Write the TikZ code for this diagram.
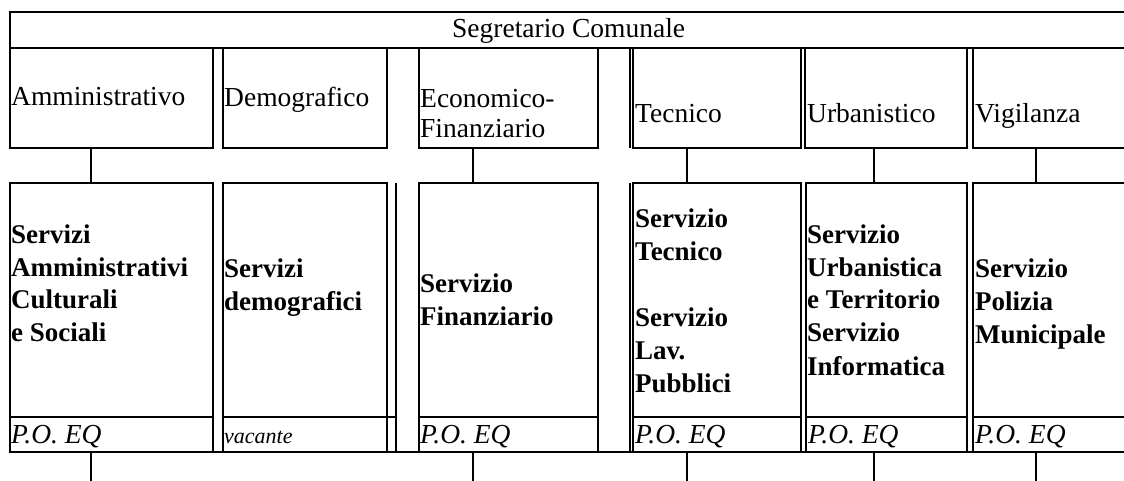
\documentclass[tikz,border=0pt]{standalone}
\usepackage{fontspec}
\setmainfont{Liberation Serif}
\newcommand\stk[1]{\vtop{\halign{##\hfil\cr#1\crcr}}}
\begin{document}
\begin{tikzpicture}[x=1pt,y=-1pt,
  box/.style={draw, line width=1.3pt, rectangle, inner sep=0pt, outer sep=0pt, anchor=north west},
  rule/.style={line width=1.3pt},
  reg/.style={anchor=base west, inner sep=0pt, font=\fontsize{27.5}{30}\selectfont},
  bld/.style={anchor=base west, inner sep=0pt, font=\fontsize{27}{33}\selectfont\bfseries},
  itl/.style={anchor=base west, inner sep=0pt, font=\fontsize{27.5}{30}\selectfont\itshape},
  itls/.style={anchor=base west, inner sep=0pt, font=\fontsize{22}{26}\selectfont\itshape},
]
\useasboundingbox (0,0) rectangle (1124,481);
\clip (0,0) rectangle (1124,481);

% top box
\node[box, minimum width=1130pt, minimum height=36pt] (seg) at (10,12) {};

% row 1
\node[box, minimum width=203pt, minimum height=100pt] (a1) at (10,48) {};
\node[box, minimum width=164pt, minimum height=100pt] (d1) at (223,48) {};
\node[box, minimum width=179pt, minimum height=100pt] (e1) at (419,48) {};
\node[box, minimum width=168pt, minimum height=100pt] (t1) at (633,48) {};
\node[box, minimum width=162pt, minimum height=100pt] (u1) at (805,48) {};
\node[box, minimum width=170pt, minimum height=100pt] (v1) at (973,48) {};
\draw[rule] (630,48) -- (630,148);

% row 2 main
\node[box, minimum width=203pt, minimum height=234pt] (a2) at (10,183) {};
\node[box, minimum width=164pt, minimum height=234pt] (d2) at (223,183) {};
\node[box, minimum width=179pt, minimum height=234pt] (e2) at (419,183) {};
\node[box, minimum width=168pt, minimum height=234pt] (t2) at (633,183) {};
\node[box, minimum width=161pt, minimum height=234pt] (u2) at (806,183) {};
\node[box, minimum width=170pt, minimum height=234pt] (v2) at (973,183) {};
% row 2 P.O.
\node[box, minimum width=203pt, minimum height=35pt] (a3) at (10,417) {};
\node[box, minimum width=173pt, minimum height=35pt] (d3) at (223,417) {};
\node[box, minimum width=179pt, minimum height=35pt] (e3) at (419,417) {};
\node[box, minimum width=168pt, minimum height=35pt] (t3) at (633,417) {};
\node[box, minimum width=161pt, minimum height=35pt] (u3) at (806,417) {};
\node[box, minimum width=170pt, minimum height=35pt] (v3) at (973,417) {};
\draw[rule] (387,417) -- (387,452);
\draw[rule] (396,183) -- (396,417);
\draw[rule] (630,183) -- (630,452);
\draw[rule] (801,183) -- (801,452);
\draw[rule] (a3.south west) -- (v3.south east);

% connectors
\foreach \n/\x in {a/91,e/473,t/687,u/874,v/1036}{
  \coordinate (x\n) at (\x,0);
  \coordinate (b\n) at (\x,481);
  \draw[rule] (x\n |- \n1.south) -- (x\n |- \n2.north);
  \draw[rule] (x\n |- \n3.south) -- (b\n);
}

% texts row 1
\node[reg] (tseg) at (452,38) {Segretario Comunale};
\node[reg] (ta1) at (11,106) {Amministrativo};
\node[reg] (td1) at (224,107) {Demografico};
\node[reg] (te1) at (420,108) {\stk{Economico-\cr Finanziario}};
\node[reg] (tt1) at (635,123) {Tecnico};
\node[reg] (tu1) at (807,123) {Urbanistico};
\node[reg] (tv1) at (975,123) {Vigilanza};

% texts row 2
\node[bld] (ta2) at (11,243) {\stk{Servizi\cr Amministrativi\cr Culturali\cr e Sociali}};
\node[bld] (td2) at (224,277) {\stk{Servizi\cr demografici}};
\node[bld] (te2) at (420,292) {\stk{Servizio\cr Finanziario}};
\node[bld] (tt2) at (635,227) {\stk{Servizio\cr Tecnico\cr\cr Servizio\cr Lav.\cr Pubblici}};
\node[bld] (tu2) at (807,243) {\stk{Servizio\cr Urbanistica\cr e Territorio\cr Servizio\cr Informatica}};
\node[bld] (tv2) at (975,277) {\stk{Servizio\cr Polizia\cr Municipale}};

% P.O. row
\node[itl] (pa) at (11,443) {P.O. EQ};
\node[itls] (pd) at (224,443) {vacante};
\node[itl] (pe) at (420,443) {P.O. EQ};
\node[itl] (pt) at (635,443) {P.O. EQ};
\node[itl] (pu) at (808,443) {P.O. EQ};
\node[itl] (pv) at (975,443) {P.O. EQ};
\end{tikzpicture}
\end{document}
